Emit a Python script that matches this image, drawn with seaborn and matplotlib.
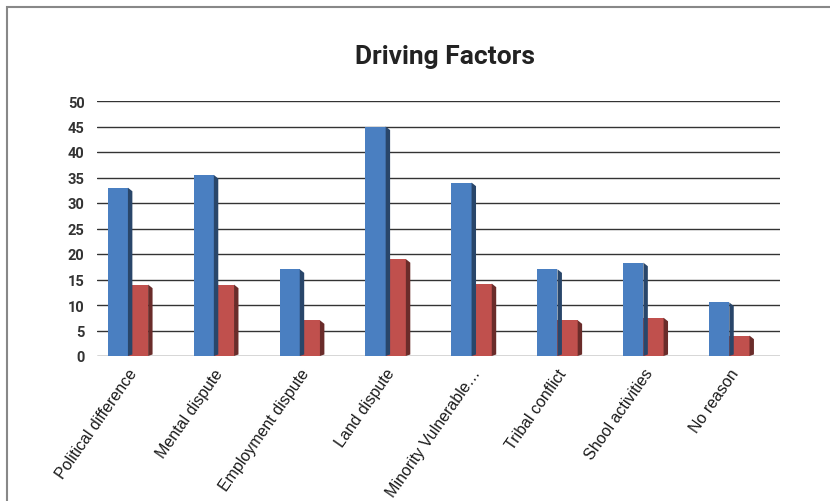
import matplotlib
matplotlib.use("Agg")
import matplotlib.pyplot as plt
import pandas as pd
import seaborn as sns
from matplotlib.patches import Polygon, Rectangle
import matplotlib.colors as mcolors

# data
categories = ["Political difference", "Mental dispute", "Employment dispute", "Land dispute",
              "Minority Vulnerable…", "Tribal conflict", "Shool activities", "No reason"]
series_1 = [33, 35.5, 17, 45, 34, 17, 18.3, 10.5]
series_2 = [14, 14, 7, 19, 14.2, 7, 7.5, 4]
series_names = ["Series 1", "Series 2"]

df = pd.DataFrame({
    "factor": categories * 2,
    "value": series_1 + series_2,
    "series": [series_names[0]] * len(categories) + [series_names[1]] * len(categories),
})

sns.set_style("white")
fig = plt.figure(figsize=(8.3, 5.02), dpi=100)
ax = fig.add_axes([97 / 830, 1 - 357 / 502, (780 - 97) / 830, (357 - 102) / 502])

palette = {"Series 1": "#4a7fc1", "Series 2": "#c0504d"}
sns.barplot(data=df, x="factor", y="value", hue="series", palette=palette,
            width=0.47, ax=ax, legend=False, saturation=1, linewidth=0)

# fake 3D side face on each bar
for bar in ax.patches:
    x0 = bar.get_x()
    w = bar.get_width()
    h = bar.get_height()
    if h <= 0:
        continue
    d = w * 0.22
    dark = tuple(c * 0.55 for c in mcolors.to_rgb(bar.get_facecolor()))
    side = Polygon([(x0 + w, 0), (x0 + w, h), (x0 + w + d, h - 0.7), (x0 + w + d, 0.3)],
                   closed=True, facecolor=dark, edgecolor="none", zorder=bar.get_zorder())
    ax.add_patch(side)

ax.set_ylim(0, 50)
ax.set_xlim(-0.36, 7.59)
ax.set_yticks(range(0, 51, 5))
ax.yaxis.grid(True, color="#333333", linewidth=1.0)
ax.set_axisbelow(True)
for s in ax.spines.values():
    s.set_visible(False)
ax.set_xlabel("")
ax.set_ylabel("")
ax.tick_params(axis="y", length=0, pad=9)
ax.tick_params(axis="x", length=0, pad=7)
for lab in ax.get_yticklabels():
    lab.set_fontfamily("Roboto")
    lab.set_fontweight("bold")
    lab.set_fontsize(10.5)
    lab.set_color("#333333")
ax.set_xticks(range(len(categories)))
ax.set_xticklabels(categories, rotation=55, ha="right", rotation_mode="anchor",
                   fontsize=11.5, family="Liberation Sans", color="#1a1a1a")

fig.text(445 / 830, 1 - 57 / 502, "Driving Factors", ha="center", va="center",
         fontsize=19, fontweight="bold", family="Roboto", color="#222222")

# chart frame
fig.patches.append(Rectangle((7 / 830, -0.05), 1.0, 1 - 8 / 502 + 0.05, transform=fig.transFigure,
                             fill=False, edgecolor="#888888", linewidth=1.5))

fig.savefig("out.png", dpi=100)
